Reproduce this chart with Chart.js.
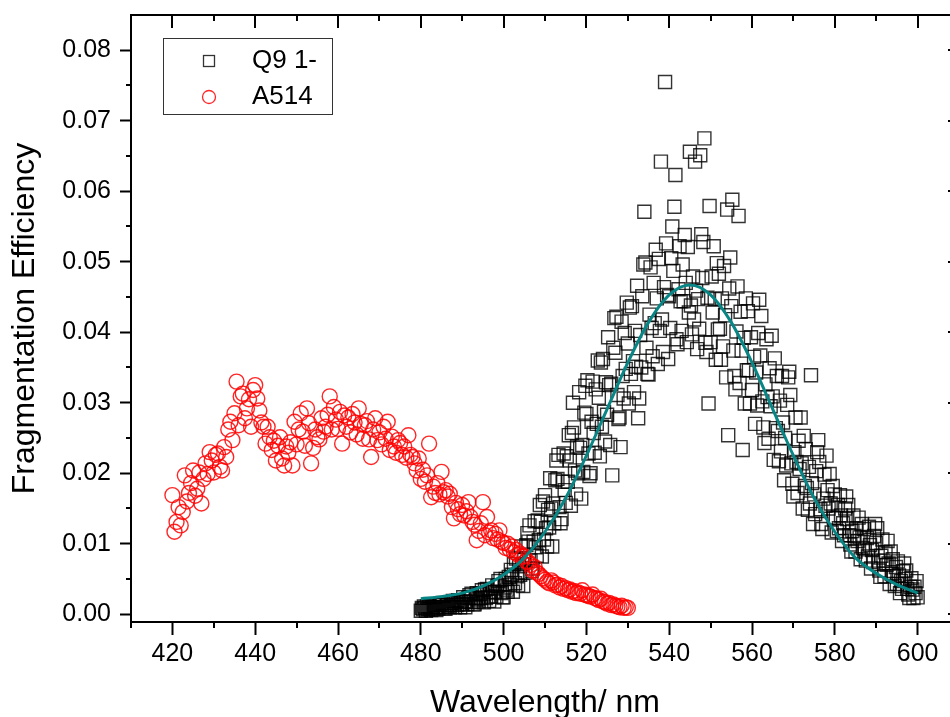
<!DOCTYPE html>
<html>
<head>
<meta charset="utf-8">
<title>Fragmentation Efficiency</title>
<script src="https://cdn.jsdelivr.net/npm/chart.js@4.4.1/dist/chart.umd.min.js"></script>
<style>
  html, body { margin: 0; padding: 0; background: #fff; overflow: hidden; }
  canvas { display: block; }
</style>
</head>
<body>
<canvas id="chart" width="970" height="717"></canvas>
<script>
// Q9 1- : scan from 480 nm in 0.25 nm steps
const q9Start = 480, q9Step = 0.25;
const q9Eff = [
  0.0005,0.0009,0.0007,0.0011, 0.0009,0.0005,0.0011,0.0007, 0.0011,0.0008,0.0006,0.0010, 0.0008,0.0013,0.0010,0.0006,
  0.0010,0.0008,0.0013,0.0015, 0.0013,0.0016,0.0010,0.0008, 0.0008,0.0013,0.0016,0.0011, 0.0010,0.0016,0.0013,0.0019,
  0.0016,0.0010,0.0019,0.0013, 0.0020,0.0014,0.0010,0.0017, 0.0014,0.0024,0.0018,0.0010, 0.0018,0.0014,0.0023,0.0027,
  0.0024,0.0029,0.0017,0.0014, 0.0014,0.0023,0.0030,0.0021, 0.0018,0.0029,0.0023,0.0034, 0.0028,0.0017,0.0035,0.0023,
  0.0036,0.0025,0.0019,0.0031, 0.0025,0.0041,0.0031,0.0018, 0.0032,0.0025,0.0040,0.0047, 0.0041,0.0050,0.0030,0.0024,
  0.0024,0.0038,0.0050,0.0035, 0.0032,0.0053,0.0042,0.0063, 0.0056,0.0032,0.0071,0.0044, 0.0079,0.0054,0.0041,0.0068,
  0.0056,0.0096,0.0071,0.0040, 0.0077,0.0059,0.0098,0.0115, 0.0103,0.0126,0.0076,0.0061, 0.0065,0.0103,0.0132,0.0095,
  0.0083,0.0133,0.0105,0.0155, 0.0131,0.0082,0.0160,0.0106, 0.0169,0.0122,0.0096,0.0148, 0.0123,0.0193,0.0150,0.0096,
  0.0157,0.0129,0.0190,0.0218, 0.0192,0.0226,0.0152,0.0129, 0.0135,0.0188,0.0228,0.0176, 0.0158,0.0224,0.0188,0.0254,
  0.0218,0.0154,0.0257,0.0300, 0.0265,0.0204,0.0170,0.0238, 0.0200,0.0315,0.0236,0.0164, 0.0240,0.0202,0.0286,0.0324,
  0.0284,0.0332,0.0228,0.0196, 0.0200,0.0273,0.0330,0.0257, 0.0229,0.0319,0.0270,0.0360, 0.0307,0.0224,0.0357,0.0266,
  0.0362,0.0287,0.0245,0.0329, 0.0283,0.0393,0.0325,0.0240, 0.0327,0.0197,0.0378,0.0420, 0.0371,0.0422,0.0311,0.0277,
  0.0279,0.0237,0.0415,0.0338, 0.0306,0.0399,0.0348,0.0442, 0.0384,0.0299,0.0435,0.0341, 0.0437,0.0359,0.0315,0.0402,
  0.0351,0.0466,0.0278,0.0306, 0.0396,0.0350,0.0451,0.0496, 0.0571,0.0499,0.0378,0.0341, 0.0340,0.0425,0.0492,0.0406,
  0.0366,0.0470,0.0413,0.0517, 0.0448,0.0355,0.0504,0.0402, 0.0642,0.0418,0.0372,0.0464, 0.0755,0.0526,0.0453,0.0362,
  0.0451,0.0406,0.0505,0.0550, 0.0487,0.0578,0.0623,0.0390, 0.0383,0.0461,0.0522,0.0444, 0.0402,0.0496,0.0444,0.0538,
  0.0470,0.0386,0.0521,0.0428, 0.0656,0.0438,0.0397,0.0479, 0.0418,0.0642,0.0459,0.0376, 0.0447,0.0405,0.0651,0.0539,
  0.0477,0.0528,0.0675,0.0385, 0.0372,0.0449,0.0299,0.0579, 0.0386,0.0479,0.0428,0.0522, 0.0447,0.0361,0.0498,0.0404,
  0.0483,0.0405,0.0361,0.0448, 0.0380,0.0494,0.0424,0.0336, 0.0574,0.0254,0.0462,0.0506, 0.0437,0.0588,0.0374,0.0338,
  0.0319,0.0401,0.0465,0.0565, 0.0328,0.0429,0.0374,0.0233, 0.0392,0.0299,0.0448,0.0346, 0.0430,0.0346,0.0299,0.0393,
  0.0318,0.0441,0.0365,0.0270, 0.0343,0.0296,0.0399,0.0446, 0.0367,0.0423,0.0302,0.0265, 0.0243,0.0326,0.0390,0.0308,
  0.0249,0.0349,0.0295,0.0395, 0.0309,0.0219,0.0363,0.0264, 0.0338,0.0260,0.0217,0.0303, 0.0231,0.0338,0.0272,0.0190,
  0.0250,0.0211,0.0297,0.0336, 0.0344,0.0311,0.0214,0.0185, 0.0167,0.0230,0.0279,0.0216, 0.0172,0.0246,0.0206,0.0279,
  0.0214,0.0150,0.0253,0.0182, 0.0234,0.0179,0.0148,0.0209, 0.0157,0.0339,0.0186,0.0128, 0.0170,0.0142,0.0203,0.0230,
  0.0247,0.0216,0.0149,0.0128, 0.0121,0.0164,0.0198,0.0154, 0.0225,0.0176,0.0150,0.0199, 0.0157,0.0116,0.0182,0.0137,
  0.0170,0.0136,0.0118,0.0155, 0.0122,0.0169,0.0140,0.0104, 0.0129,0.0112,0.0150,0.0167, 0.0135,0.0155,0.0112,0.0099,
  0.0089,0.0118,0.0140,0.0111, 0.0089,0.0122,0.0104,0.0137, 0.0109,0.0078,0.0128,0.0094, 0.0121,0.0092,0.0076,0.0108,
  0.0082,0.0124,0.0098,0.0065, 0.0091,0.0074,0.0111,0.0128, 0.0101,0.0122,0.0076,0.0062, 0.0053,0.0083,0.0106,0.0076,
  0.0054,0.0088,0.0070,0.0104, 0.0072,0.0043,0.0089,0.0057, 0.0078,0.0054,0.0040,0.0067, 0.0043,0.0075,0.0055,0.0030,
  0.0047,0.0036,0.0061,0.0072, 0.0050,0.0062,0.0036,0.0028, 0.0023,0.0039,0.0051,0.0035, 0.0023,0.0039,0.0030,0.0047,
  0.0024
];

// A514 : scan from 420 nm in 0.5 nm steps
const a514Start = 420, a514Step = 0.5;
const a514Eff = [
  0.0169,0.0117, 0.0131,0.0152, 0.0126,0.0145, 0.0197,0.0160, 0.0172,0.0186, 0.0204,0.0168, 0.0178,0.0201, 0.0157,0.0192,
  0.0214,0.0199, 0.0230,0.0218, 0.0201,0.0226, 0.0228,0.0209, 0.0204,0.0237, 0.0223,0.0262, 0.0273,0.0247, 0.0285,0.0330,
  0.0268,0.0309, 0.0313,0.0278, 0.0292,0.0305, 0.0266,0.0318, 0.0325,0.0306, 0.0289,0.0272, 0.0266,0.0242, 0.0266,0.0251,
  0.0233,0.0246, 0.0218,0.0239, 0.0251,0.0221, 0.0211,0.0238, 0.0229,0.0244, 0.0211,0.0273, 0.0241,0.0262, 0.0285,0.0259,
  0.0239,0.0292, 0.0271,0.0214, 0.0236,0.0262, 0.0251,0.0248, 0.0278,0.0259, 0.0266,0.0283, 0.0309,0.0262, 0.0294,0.0276,
  0.0263,0.0287, 0.0242,0.0282, 0.0266,0.0279, 0.0258,0.0284, 0.0272,0.0255, 0.0292,0.0270, 0.0249,0.0268, 0.0274,0.0248,
  0.0223,0.0262, 0.0278,0.0247, 0.0258,0.0241, 0.0266,0.0249, 0.0273,0.0233, 0.0252,0.0238, 0.0229,0.0247, 0.0243,0.0226,
  0.0238,0.0222, 0.0254,0.0226, 0.0223,0.0214, 0.0204,0.0221, 0.0192,0.0205, 0.0188,0.0197, 0.0242,0.0166, 0.0181,0.0172,
  0.0186,0.0170, 0.0202,0.0173, 0.0176,0.0167, 0.0171,0.0152, 0.0136,0.0158, 0.0149,0.0142, 0.0155,0.0140, 0.0146,0.0159,
  0.0138,0.0131, 0.0127,0.0105, 0.0118,0.0129, 0.0159,0.0112, 0.0138,0.0116, 0.0119,0.0108, 0.0114,0.0106, 0.0119,0.0103,
  0.0101,0.0094, 0.0100,0.0092, 0.0096,0.0088, 0.0091,0.0084, 0.0086,0.0082, 0.0082,0.0075, 0.0074,0.0070, 0.0062,0.0067,
  0.0059,0.0057, 0.0054,0.0051, 0.0049,0.0046, 0.0044,0.0048, 0.0045,0.0041, 0.0042,0.0038, 0.0040,0.0036, 0.0037,0.0034,
  0.0035,0.0032, 0.0033,0.0030, 0.0031,0.0029, 0.0034,0.0028, 0.0027,0.0026, 0.0025,0.0028, 0.0023,0.0022, 0.0020,0.0022,
  0.0018,0.0017, 0.0015,0.0016, 0.0013,0.0014, 0.0012,0.0011, 0.0010,0.0012, 0.0009,0.0010, 0.0009
];

// Gaussian fit to Q9 1- (every 5 nm)
const fitWl = [480,485,490,495,500,505,510,515,520,525,530,535,540,545,550,555,560,565,570,575,580,585,590,595,600];
const fitEff = [0.0022,0.0025,0.0030,0.0040,0.0056,0.0080,0.0117,0.0165,0.0225,0.0291,0.0357,0.0414,0.0453,0.0467,
  0.0453,0.0414,0.0357,0.0291,0.0225,0.0165,0.0117,0.0080,0.0058,0.0042,0.0030];

// axis ticks
const xMajor = [420,440,460,480,500,520,540,560,580,600];
const xMinor = [410,430,450,470,490,510,530,550,570,590,610];
const yMajor = [0,0.01,0.02,0.03,0.04,0.05,0.06,0.07,0.08];
const yMinor = [0.005,0.015,0.025,0.035,0.045,0.055,0.065,0.075];

const FONT = "'Liberation Sans', Arial, sans-serif";

const q9Points = q9Eff.map((v, i) => ({ x: q9Start + i * q9Step, y: v }));
const a514Points = a514Eff.map((v, i) => ({ x: a514Start + i * a514Step, y: v }));
const fitPoints = fitWl.map((w, i) => ({ x: w, y: fitEff[i] }));

// minor ticks + top/right frame with inward ticks
const frameTicks = {
  id: 'frameTicks',
  afterDraw(chart) {
    const { ctx, chartArea: a, scales: { x, y } } = chart;
    ctx.save();
    ctx.strokeStyle = '#000';
    ctx.lineWidth = 2;
    ctx.beginPath();
    ctx.moveTo(a.left, a.top);
    ctx.lineTo(a.right, a.top);
    ctx.lineTo(a.right, a.bottom);
    ctx.stroke();
    ctx.beginPath();
    xMajor.forEach(v => {
      const px = Math.round(x.getPixelForValue(v));
      ctx.moveTo(px, a.top); ctx.lineTo(px, a.top + 13);
    });
    xMinor.forEach(v => {
      const px = Math.round(x.getPixelForValue(v));
      ctx.moveTo(px, a.bottom); ctx.lineTo(px, a.bottom + 6);
      ctx.moveTo(px, a.top); ctx.lineTo(px, a.top + 6);
    });
    yMajor.forEach(v => {
      const py = Math.round(y.getPixelForValue(v));
      ctx.moveTo(a.right, py); ctx.lineTo(a.right - 11, py);
    });
    yMinor.forEach(v => {
      const py = Math.round(y.getPixelForValue(v));
      ctx.moveTo(a.left, py); ctx.lineTo(a.left - 5, py);
      ctx.moveTo(a.right, py); ctx.lineTo(a.right - 5, py);
    });
    ctx.stroke();
    ctx.restore();
  }
};

// boxed legend inside the plot, top left
const boxLegend = {
  id: 'boxLegend',
  afterDraw(chart) {
    const ctx = chart.ctx;
    const q9 = chart.data.datasets[2], a514 = chart.data.datasets[1];
    ctx.save();
    ctx.fillStyle = '#fff';
    ctx.fillRect(164, 39, 168, 75);
    ctx.strokeStyle = '#333';
    ctx.lineWidth = 1;
    ctx.strokeRect(163.5, 38.5, 169, 76);

    ctx.lineWidth = 1.3;
    ctx.strokeStyle = q9.borderColor;
    ctx.strokeRect(203.5, 55.5, 11, 11);
    ctx.strokeStyle = a514.borderColor;
    ctx.beginPath();
    ctx.arc(209, 97, 6.5, 0, Math.PI * 2);
    ctx.stroke();

    ctx.fillStyle = '#000';
    ctx.font = '26px ' + FONT;
    ctx.textBaseline = 'middle';
    ctx.textAlign = 'left';
    ctx.fillText(q9.label, 252, 61);
    ctx.fillText(a514.label, 252, 97);
    ctx.restore();
  }
};

new Chart(document.getElementById('chart'), {
  type: 'scatter',
  data: {
    datasets: [
      {
        label: 'Fit',
        data: fitPoints,
        showLine: true,
        borderColor: '#088585',
        borderWidth: 3,
        pointRadius: 0,
        cubicInterpolationMode: 'monotone',
        order: 0
      },
      {
        label: 'A514',
        data: a514Points,
        pointStyle: 'circle',
        pointRadius: 7.5,
        borderColor: 'rgba(255,0,0,0.85)',
        backgroundColor: 'rgba(255,255,255,0)',
        borderWidth: 1.4,
        order: 1
      },
      {
        label: 'Q9 1-',
        data: q9Points,
        pointStyle: 'rect',
        pointRadius: 9.2,
        borderColor: 'rgba(0,0,0,0.8)',
        backgroundColor: 'rgba(255,255,255,0)',
        borderWidth: 1.4,
        order: 2
      }
    ]
  },
  options: {
    responsive: false,
    devicePixelRatio: 1,
    animation: false,
    events: [],
    layout: { padding: { left: 0, top: 15, right: 11, bottom: 0 } },
    plugins: {
      legend: { display: false },
      tooltip: { enabled: false }
    },
    scales: {
      x: {
        type: 'linear',
        min: 410,
        max: 610,
        afterBuildTicks: s => { s.ticks = xMajor.map(v => ({ value: v })); },
        afterFit: s => { s.height = 95; s.paddingLeft = 0; s.paddingRight = 0; },
        border: { display: true, color: '#000', width: 2 },
        grid: { display: true, drawOnChartArea: false, drawTicks: true, tickLength: 13, tickWidth: 2, tickColor: '#000' },
        ticks: {
          padding: 4,
          color: '#000',
          font: { family: FONT, size: 25 },
          maxRotation: 0,
          callback: v => String(v)
        },
        title: {
          display: true,
          text: 'Wavelength/ nm',
          color: '#000',
          font: { family: FONT, size: 32, lineHeight: 1 },
          padding: { top: 0, bottom: -2 }
        }
      },
      y: {
        type: 'linear',
        min: -0.0011,
        max: 0.085,
        afterBuildTicks: s => { s.ticks = yMajor.map(v => ({ value: v })); },
        afterFit: s => { s.width = 131; s.paddingTop = 0; s.paddingBottom = 0; },
        border: { display: true, color: '#000', width: 2 },
        grid: { display: true, drawOnChartArea: false, drawTicks: true, tickLength: 11, tickWidth: 2, tickColor: '#000' },
        ticks: {
          padding: 9,
          color: '#000',
          font: { family: FONT, size: 25 },
          callback: v => v.toFixed(2)
        },
        title: {
          display: true,
          text: 'Fragmentation Efficiency',
          color: '#000',
          font: { family: FONT, size: 32, lineHeight: 1 },
          padding: { top: 9, bottom: 0 }
        }
      }
    }
  },
  plugins: [frameTicks, boxLegend]
});
</script>
</body>
</html>
